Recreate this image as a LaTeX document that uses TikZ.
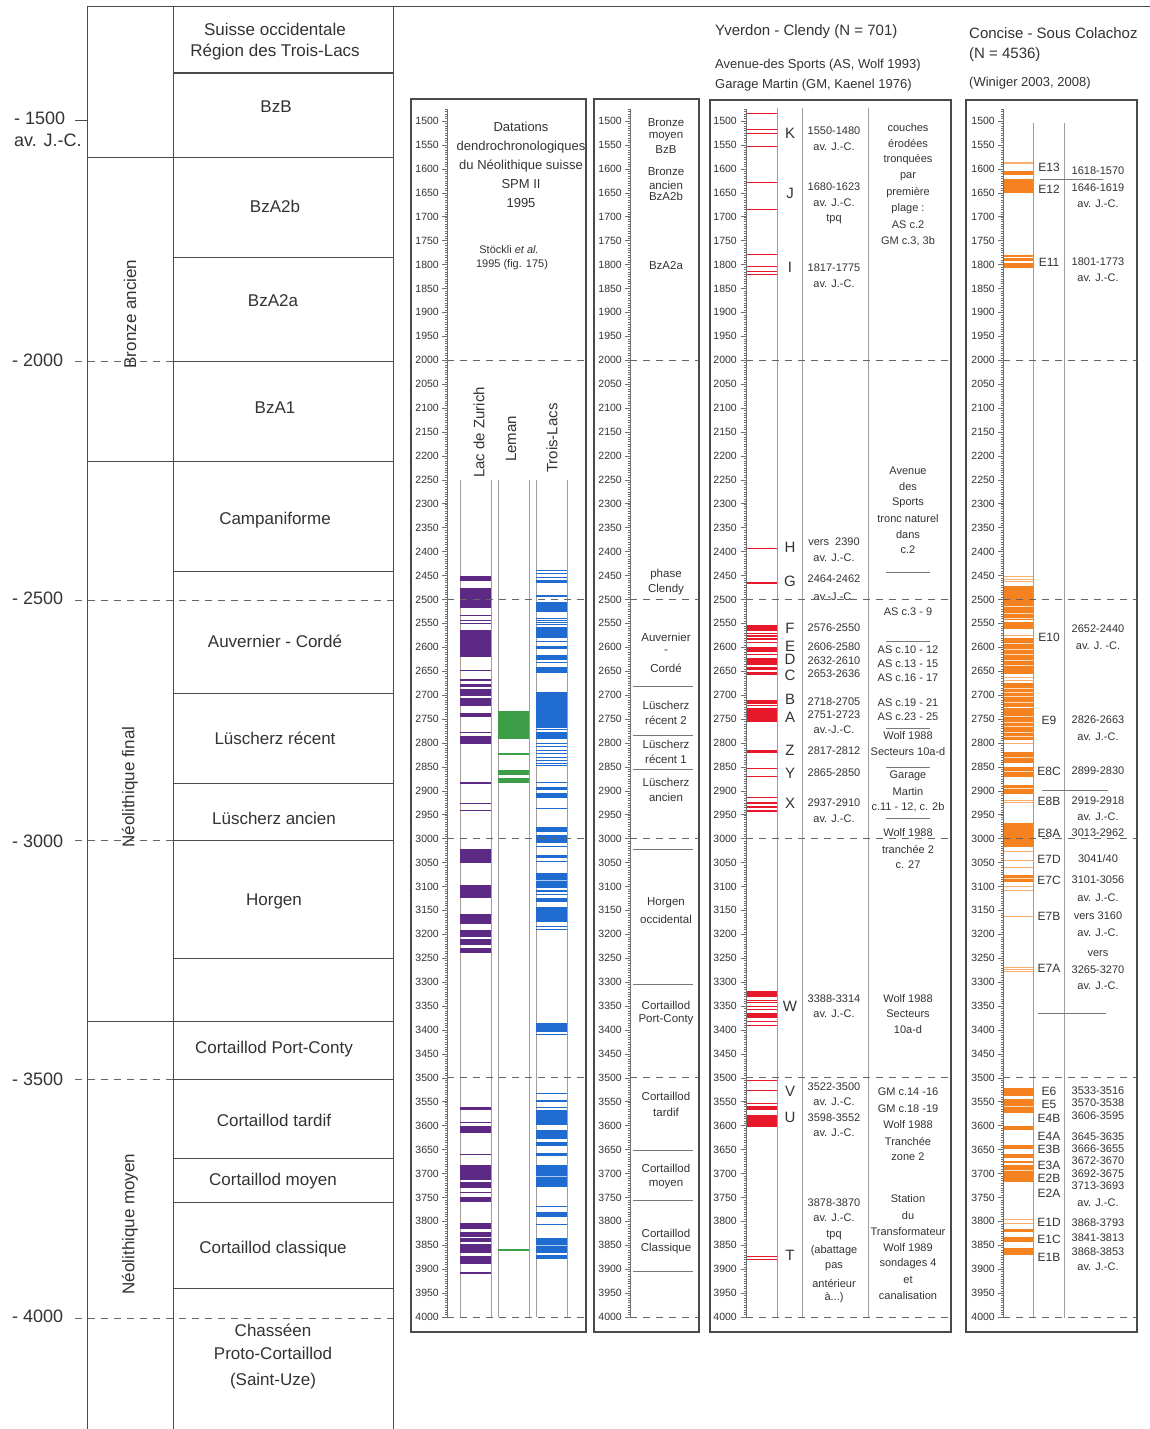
\documentclass[tikz,border=0pt]{standalone}
\usepackage{fontspec}
\setmainfont{Liberation Sans}
\definecolor{txt}{HTML}{333333}
\definecolor{frm}{HTML}{4A4A4A}
\definecolor{sepc}{HTML}{A39C92}
\definecolor{tickc}{HTML}{6E6E6E}
\definecolor{purp}{HTML}{5C2A85}
\definecolor{grn}{HTML}{3C9F47}
\definecolor{blu}{HTML}{1F6BD0}
\definecolor{rd}{HTML}{E8182B}
\definecolor{org}{HTML}{F58220}
\newcommand{\fsz}[1]{\fontsize{#1}{#1}\selectfont}
\tikzset{
  every node/.style={inner sep=0pt, text=txt},
  big/.style={font=\fsz{17}},
  hdr/.style={font=\fsz{15}, anchor=west},
  sub/.style={font=\fsz{13}, anchor=west},
  mid/.style={font=\fsz{13}},
  sm/.style={font=\fsz{11}},
  smp/.style={font=\fsz{11.5}},
  lett/.style={font=\fsz{15}},
  elab/.style={font=\fsz{12}},
  rot/.style={font=\fsz{15}, rotate=90, anchor=west},
  bigrot/.style={font=\fsz{17}, rotate=90},
  tk/.style={font=\fsz{10.5}, anchor=east},
  yl/.style={font=\fsz{18}, anchor=west},
  frame/.style={draw=frm, line width=1.1pt},
  rule/.style={draw=frm, line width=1pt},
  thinrule/.style={draw=frm!75, line width=0.6pt},
  sepline/.style={draw=sepc, line width=0.6pt},
  dsh/.style={draw=frm!85, line width=0.9pt, dash pattern=on 7pt off 6pt},
}
\newcommand{\ruler}[2]{%
  \draw[tickc, line width=0.5pt] (#1,1475) -- (#1,4000);
  \foreach \Y in {1475,1480,...,4000} \draw[tickc, line width=0.3pt] (#1-2.5,\Y) -- (#1,\Y);
  \foreach \Y in {1500,1550,...,4000} {\draw[tickc, line width=0.5pt] (#1-5,\Y) -- (#1,\Y); \node[tk] at (#2,\Y) {\Y};}
}
\newcommand{\bars}[4]{\foreach \a/\b in {#4} \fill[#1] (#2,\a) rectangle (#3,\b);}
\newcommand{\gaps}[4]{\foreach \g in {#4} \draw[#1, line width=0.45pt] (#2,\g) -- (#3,\g);}
\begin{document}
\begin{tikzpicture}[x=1pt,y=-1pt]
\useasboundingbox (0,0) rectangle (1150,1429);
\fill[white] (0,0) rectangle (1150,1429);

% ---------------- left column ----------------
\draw[rule] (87,7) -- (1150,7);
\draw[rule] (87,7) -- (87,1429);
\draw[rule] (173,7) -- (173,1429);
\draw[rule] (393,7) -- (393,1429);
\foreach \yy in {73,157,257,361,461,571,693,783,840,958,1021,1079,1158,1202,1288} \draw[rule] (173,\yy) -- (393,\yy);
\foreach \yy in {157,461,1021} \draw[rule] (87,\yy) -- (173,\yy);
\draw[rule] (75,120) -- (87,120);
\foreach \yy in {361,840,1079} \draw[dsh] (75,\yy) -- (173,\yy);
\foreach \yy in {600,1318} \draw[dsh] (75,\yy) -- (393,\yy);

\node[yl] (y1500) at (14,118) {- 1500};
\node[yl] (avjc) at (14,140) {av. J.-C.};
\node[yl] (y2000) at (12,360) {- 2000};
\node[yl] (y2500) at (12,598) {- 2500};
\node[yl] (y3000) at (12,841) {- 3000};
\node[yl] (y3500) at (12,1079) {- 3500};
\node[yl] (y4000) at (12,1316) {- 4000};

\node[big] (h1) at (275,29) {Suisse occidentale};
\node[big] (h2) at (275,52) {Région des Trois-Lacs};
\node[big] (bzb) at (276,107) {BzB};
\node[big] (bza2b) at (275,206) {BzA2b};
\node[big] (bza2a) at (273,301) {BzA2a};
\node[big] (bza1) at (275,408) {BzA1};
\node[big] (camp) at (275,520) {Campaniforme};
\node[big] (auv) at (275,641) {Auvernier - Cordé};
\node[big] (lrec) at (275,738) {Lüscherz récent};
\node[big] (lanc) at (274,818) {Lüscherz ancien};
\node[big] (horg) at (274,901) {Horgen};
\node[big] (cpc) at (274,1049) {Cortaillod Port-Conty};
\node[big] (ctar) at (274,1120) {Cortaillod tardif};
\node[big] (cmoy) at (273,1181) {Cortaillod moyen};
\node[big] (ccla) at (273,1249) {Cortaillod classique};
\node[big] (chas) at (273,1330) {Chasséen};
\node[big] (proto) at (273,1353) {Proto-Cortaillod};
\node[big] (suze) at (273,1381) {(Saint-Uze)};
\node[bigrot] (bra) at (130,314) {Bronze ancien};
\node[bigrot] (nfin) at (130,787) {Néolithique final};
\node[bigrot] (nmoy) at (130,1224) {Néolithique moyen};

% ---------------- panel frames ----------------
\draw[frame] (411,99) rectangle (586,1332);
\draw[frame] (594,99) rectangle (699,1332);
\draw[frame] (710,100) rectangle (951,1332);
\draw[frame] (966,100) rectangle (1137,1332);

% headers
\node[hdr] (yv) at (715,32) {Yverdon - Clendy (N = 701)};
\node[sub] (yv2) at (715,65) {Avenue-des Sports (AS, Wolf 1993)};
\node[sub] (yv3) at (715,85) {Garage Martin (GM, Kaenel 1976)};
\node[hdr] (co) at (969,33) {Concise - Sous Colachoz};
\node[hdr] (co2) at (969,55) {(N = 4536)};
\node[sub] (co3) at (969,83) {(Winiger 2003, 2008)};

% panel 2 texts
\node[mid] at (521,127) {Datations};
\node[mid] at (521,147) {dendrochronologiques};
\node[mid] at (521,166) {du Néolithique suisse};
\node[mid] at (521,184) {SPM II};
\node[mid] at (521,203) {1995};
\node[sm] at (509,250) {Stöckli \textit{et al.}};
\node[sm] at (512,265) {1995 (fig. 175)};
\node[rot] (zur) at (479,478) {Lac de Zurich};
\node[rot] (lem) at (511,462) {Leman};
\node[rot] (tl) at (552,473) {Trois-Lacs};

% panel 3 texts
\foreach \t/\yy in {Bronze/123,moyen/137,BzB/150,Bronze/172,ancien/185,BzA2b/196,BzA2a/266,phase/575,Clendy/590,Auvernier/637,-/652,Cordé/668,Lüscherz/705,récent 2/720,Lüscherz/744,récent 1/759,Lüscherz/782,ancien/797,Horgen/903,occidental/919,Cortaillod/1005,Port-Conty/1020,Cortaillod/1096,tardif/1112,Cortaillod/1168,moyen/1185,Cortaillod/1233,Classique/1249}
  \node[smp] at (666,\yy) {\t};
\foreach \yy in {686,735,769,849,984,1150,1200,1271} \draw[thinrule] (633,\yy) -- (693,\yy);

% Yverdon separators and texts
\foreach \xx in {777,802,868} \draw[sepline] (\xx,108) -- (\xx,1318);
\foreach \t/\yy in {K/133,J/193,I/267,H/547,G/581,F/628,E/646,D/659,C/675,B/699,A/717,Z/750,Y/773,X/803,W/1006,V/1091,U/1117,T/1255}
  \node[lett] at (790,\yy) {\t};
\foreach \t/\yy in {1550-1480/131,av. J.-C./147,1680-1623/187,av. J.-C./203,tpq/219,1817-1775/268,av. J.-C./284,av. J.-C./558,2464-2462/579,av.-J.-C./597,2576-2550/628,2606-2580/647,2632-2610/661,2653-2636/674,2718-2705/702,2751-2723/715,av.-J.-C./730,2817-2812/751,2865-2850/773,2937-2910/803,av. J.-C./819,3388-3314/999,av. J.-C./1014,3522-3500/1087,av. J.-C./1102,3598-3552/1118,av. J.-C./1133,3878-3870/1203,av. J.-C./1218,tpq/1235,pas/1267,antérieur/1283}
  \node[sm] at (834,\yy) {\t};
\node[sm] at (834,542) {vers\ \ 2390};
\node[sm] at (834,1251) {(abattage};
\node[sm] at (834,1298) {à...)};
\foreach \t/\yy in {couches/128,érodées/144,tronquées/160,par/177,première/193,plage :/209,AS c.2/225,Avenue/471,des/487,Sports/503,tronc naturel/519,dans/535,c.2/550,AS c.3 - 9/612,AS c.10 - 12/650,AS c.13 - 15/664,AS c.16 - 17/678,AS c.19 - 21/703,AS c.23 - 25/717,Wolf 1988/736,Secteurs 10a-d/752,Garage/776,Martin/792,Wolf 1988/833,tranchée 2/849,c. 27/865,Wolf 1988/999,Secteurs/1014,10a-d/1030,GM c.14 -16/1092,GM c.18 -19/1109,Wolf 1988/1125,Tranchée/1141,zone 2/1157,Station/1199,du/1216,Transformateur/1232,Wolf 1989/1248,sondages 4/1264,et/1280,canalisation/1296}
  \node[sm] at (908,\yy) {\t};
\node[sm] at (908,241) {GM c.3, 3b};
\node[sm] at (908,807) {c.11 - 12, c. 2b};
\foreach \yy in {572,641,728,767,818} \draw[thinrule] (886,\yy) -- (930,\yy);

% Concise separators and texts
\foreach \xx in {1033,1064} \draw[sepline] (\xx,123) -- (\xx,1318);
\foreach \t/\yy in {E13/167,E12/189,E11/262,E10/637,E9/720,E8C/771,E8B/801,E8A/833,E7D/859,E7C/880,E7B/916,E7A/968,E6/1091,E5/1104,E4B/1118,E4A/1136,E3B/1149,E3A/1165,E2B/1178,E2A/1193,E1D/1222,E1C/1239,E1B/1257}
  \node[elab] at (1049,\yy) {\t};
\foreach \t/\yy in {1618-1570/171,1646-1619/188,av. J.-C./204,1801-1773/262,av. J.-C./278,2652-2440/629,av. J. -C./646,2826-2663/720,av. J.-C./737,2899-2830/771,2919-2918/801,av. J.-C./817,3013-2962/833,3101-3056/880,av. J.-C./898,vers 3160/916,av. J.-C./933,vers/954,3265-3270/970,av. J.-C./986,3533-3516/1091,3570-3538/1103,3606-3595/1116,3645-3635/1137,3666-3655/1149,3672-3670/1161,3692-3675/1174,3713-3693/1186,av. J.-C./1203,3868-3793/1223,3841-3813/1238,3868-3853/1252,av. J.-C./1267}
  \node[sm] at (1098,\yy) {\t};
\node[sm] at (1098,859) {3041/40};
\draw[thinrule] (1040,179) -- (1103,179);
\draw[thinrule] (1042,790) -- (1108,790);
\draw[thinrule] (1038,1013) -- (1106,1013);

% ---------------- year-scaled content ----------------
\begin{scope}[yshift=596.6pt, y=-0.4784pt]
  \foreach \xx in {460,491,498,529,536,567} \draw[sepline] (\xx,2250) -- (\xx,4000);
  \bars{purp}{460}{491}{2451/2462, 2477/2519, 2532.5/2534, 2542.5/2544, 2548.5/2550, 2564/2621, 2647.5/2649, 2666/2670, 2677/2683, 2687/2702, 2706/2723, 2737/2746, 2776.5/2778, 2785/2802, 2882/2886, 2925.5/2927, 2939.5/2941, 3022/3051, 3097/3125, 3158/3179, 3191/3206, 3210/3223, 3229/3239, 3561/3567, 3591.5/3593, 3600/3615, 3658.5/3660, 3682/3713, 3717/3730, 3738.5/3740, 3749/3760, 3804/3817, 3823/3833, 3835/3843, 3848/3866, 3872/3889, 3906/3910}
  \bars{grn}{498}{529}{2733/2792, 2820.5/2825, 2857/2867, 2873/2884, 3858.5/3861.5}
  \bars{blu}{536}{567}{2438.5/2440, 2445.5/2447, 2452.5/2454, 2459/2466, 2491/2495, 2505/2526, 2538.5/2540, 2542.5/2544, 2546.5/2548, 2550.5/2552, 2557/2581, 2586.5/2588, 2597/2604, 2616/2627, 2631.5/2633, 2641/2654, 2694/2769, 2771/2774, 2777/2792, 2799.5/2801, 2807.5/2809, 2814.5/2816, 2821.5/2823, 2828.5/2830, 2835.5/2837, 2842.5/2844, 2846.5/2848, 2881.5/2883, 2892/2898, 2905/2915, 2935.5/2937, 2976/2986, 2993/3009, 3014.5/3016, 3034/3040, 3047.5/3049, 3072/3103, 3106.5/3108, 3109.5/3111, 3116.5/3118, 3124/3133, 3143/3174, 3183.5/3185, 3189.5/3191, 3386/3404, 3408.5/3410, 3531.5/3533, 3547/3550, 3560.5/3562, 3567/3599, 3609/3627, 3634/3643, 3657/3663, 3682/3728, 3767.5/3769, 3781/3791, 3805.5/3807, 3835/3866, 3870/3879}
  \gaps{blu!35}{536}{567}{3088, 3706, 3850}
  \bars{rd}{746}{777}{1483/1484.5, 1516.5/1518, 1524.5/1526, 1551.5/1553, 1626.5/1628, 1683.5/1685, 1777.5/1779, 1802.5/1804, 1814.5/1816, 1819/1821, 2392.5/2394, 2464.5/2468, 2554/2566, 2569.5/2571, 2574/2578, 2581/2585, 2589.5/2591, 2599/2611, 2613.5/2615, 2622/2637, 2641/2647, 2651/2658, 2710/2718, 2721.5/2723, 2728/2756, 2815/2822, 2852.5/2854, 2868.5/2870, 2913.5/2915, 2923/2928, 2932/2937, 2940/2944, 3318/3332, 3336.5/3338, 3342.5/3344, 3349.5/3351, 3356.5/3358, 3364/3374, 3380.5/3382, 3389.5/3391, 3504.5/3506, 3526.5/3528, 3552.5/3554, 3559/3567, 3578/3602, 3872.5/3874, 3878.5/3880}
  \bars{org}{1003}{1033}{1604/1613, 1621/1651, 1780/1784, 1786/1793, 1797/1807, 2472/2501, 2501/2543, 2547/2561, 2581/2655, 2675/2724, 2728/2794, 2818/2843, 2850/2871, 2888/2906, 2967/3017, 3076/3090, 3522/3538, 3545/3574, 3601/3609, 3640/3649, 3659/3668, 3673/3679, 3682/3717, 3817/3822, 3832/3843, 3856/3870}
  \bars{org!65}{1003}{1033}{1585.5/1587, 1588/1589.5, 2450.5/2452, 2457.5/2459, 2462.5/2464, 2573.5/2575, 2661.5/2663, 2667.5/2669, 2800.5/2802, 2918.5/2920, 2922.5/2924, 3026.5/3028, 3044.5/3046, 3058.5/3060, 3099.5/3101, 3106.5/3108, 3162.5/3164, 3267.5/3269, 3272.5/3274, 3276.5/3278, 3794.5/3796, 3803.5/3805}
  \gaps{org!30}{1003}{1033}{2514, 2529, 2540, 2592, 2604, 2614, 2627, 2637, 2686, 2695, 2703, 2714, 2745, 2756, 2766, 2777, 2787, 2829, 2860, 2895, 3083, 3560, 3694}
  \ruler{447}{439}
  \ruler{630}{622}
  \ruler{746}{737}
  \ruler{1003}{995}
  \foreach \Y in {2000,2500,3000,3500,4000} {
    \draw[dsh] (447,\Y) -- (586,\Y);
    \draw[dsh] (630,\Y) -- (699,\Y);
    \draw[dsh] (746,\Y) -- (951,\Y);
    \draw[dsh] (1003,\Y) -- (1137,\Y);
  }
\end{scope}
\end{tikzpicture}
\end{document}
